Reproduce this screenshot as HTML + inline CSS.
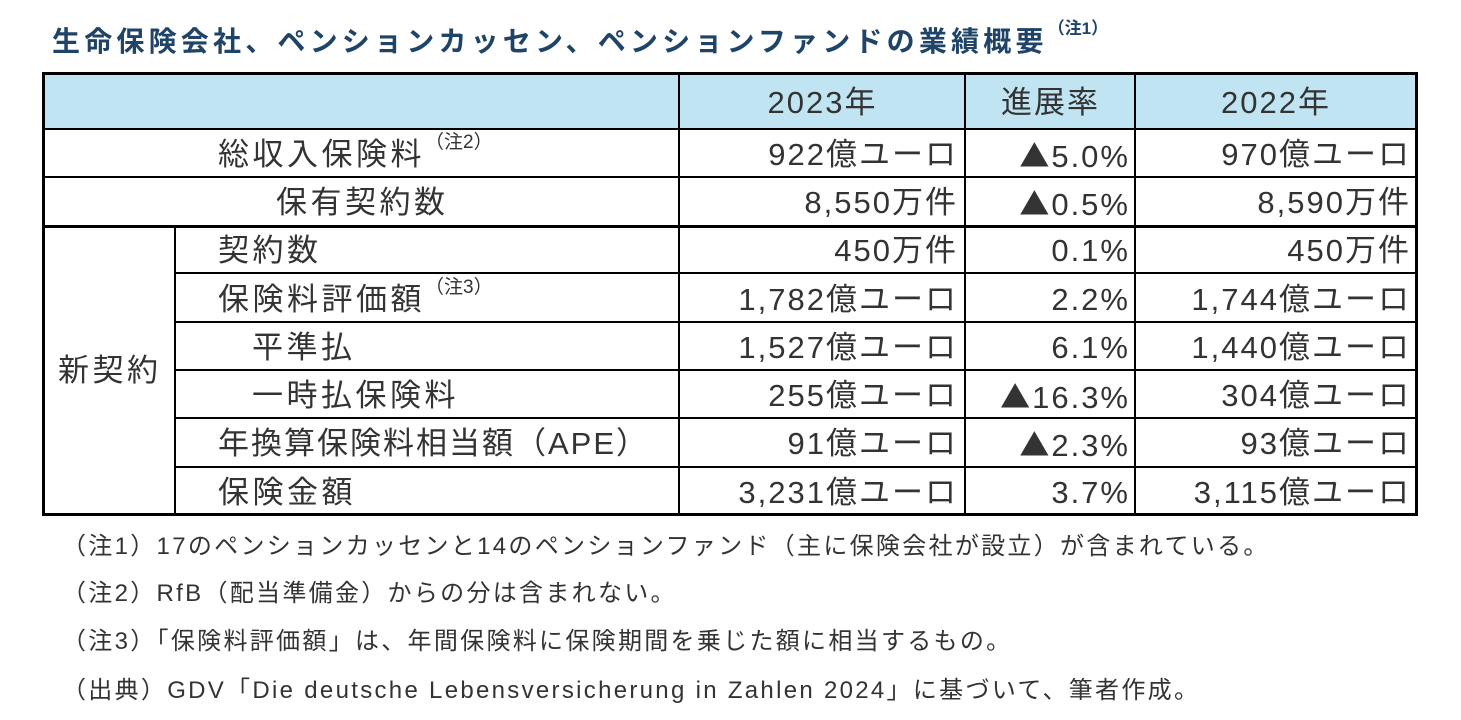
<!DOCTYPE html>
<html><head><meta charset="utf-8">
<style>
body{margin:0;width:1461px;height:720px;background:#fff;position:relative;overflow:hidden;font-family:"Liberation Sans","Noto Sans CJK JP",sans-serif;color:#333;}
.t{position:absolute;left:52px;top:20px;font-size:28px;letter-spacing:4.2px;font-weight:bold;color:#1f4468;white-space:nowrap;}
.t sup{font-size:17px;letter-spacing:0;position:relative;top:-6px;vertical-align:top;}
.line{position:absolute;background:#000;}
.c{position:absolute;font-size:31px;letter-spacing:2px;white-space:nowrap;line-height:1;}
.n{position:absolute;left:62px;font-size:24px;letter-spacing:2.3px;white-space:nowrap;color:#333;}
sup.s{font-size:19px;letter-spacing:0;vertical-align:top;position:relative;top:-6px;}
.lab{letter-spacing:3.5px;}
.tri{font-family:"Noto Sans CJK JP",sans-serif;font-size:30px;}
</style></head><body>
<div class="t">生命保険会社、ペンションカッセン、ペンションファンドの業績概要<sup>（注1）</sup></div>
<div style="position:absolute;left:44px;top:73px;width:1373px;height:56px;background:#c1e4f3"></div>
<div class="line" style="left:42px;top:72px;width:1376px;height:3px"></div>
<div class="line" style="left:42px;top:513px;width:1376px;height:3px"></div>
<div class="line" style="left:42px;top:72px;width:3px;height:444px"></div>
<div class="line" style="left:1415px;top:72px;width:3px;height:444px"></div>
<div class="line" style="left:42px;top:128px;width:1376px;height:2px"></div>
<div class="line" style="left:42px;top:176px;width:1376px;height:2px"></div>
<div class="line" style="left:42px;top:225px;width:1376px;height:3px"></div>
<div class="line" style="left:175px;top:272px;width:1243px;height:2px"></div>
<div class="line" style="left:175px;top:321px;width:1243px;height:2px"></div>
<div class="line" style="left:175px;top:369px;width:1243px;height:2px"></div>
<div class="line" style="left:175px;top:417px;width:1243px;height:2px"></div>
<div class="line" style="left:175px;top:466px;width:1243px;height:2px"></div>
<div class="line" style="left:174px;top:226px;width:2px;height:289px"></div>
<div class="line" style="left:678px;top:72px;width:2px;height:444px"></div>
<div class="line" style="left:964px;top:72px;width:2px;height:444px"></div>
<div class="line" style="left:1134px;top:72px;width:2px;height:444px"></div>
<div class="c" style="left:680px;width:285px;top:87px;text-align:center">2023年</div>
<div class="c" style="left:966px;width:169px;top:87px;text-align:center">進展率</div>
<div class="c" style="left:1136px;width:280px;top:87px;text-align:center">2022年</div>
<div class="c lab" style="left:218px;top:139px">総収入保険料<sup class="s">（注2）</sup></div>
<div class="c lab" style="left:276px;top:187px">保有契約数</div>
<div class="c lab" style="left:58px;top:355px">新契約</div>
<div class="c lab" style="left:218px;top:235px">契約数</div>
<div class="c lab" style="left:218px;top:284px">保険料評価額<sup class="s">（注3）</sup></div>
<div class="c lab" style="left:252px;top:332px">平準払</div>
<div class="c lab" style="left:252px;top:380px">一時払保険料</div>
<div class="c" style="left:218px;top:428px">年換算保険料相当額（APE）</div>
<div class="c lab" style="left:218px;top:477px">保険金額</div>
<div id="vals"></div>
<div class="n" style="top:526px">（注1）17のペンションカッセンと14のペンションファンド（主に保険会社が設立）が含まれている。</div>
<div class="n" style="top:573px">（注2）RfB（配当準備金）からの分は含まれない。</div>
<div class="n" style="top:621px">（注3）「保険料評価額」は、年間保険料に保険期間を乗じた額に相当するもの。</div>
<div class="n" style="top:670px">（出典）GDV「Die deutsche Lebensversicherung in Zahlen 2024」に基づいて、筆者作成。</div>
<script>
const v2023=["922億ユーロ","8,550万件","450万件","1,782億ユーロ","1,527億ユーロ","255億ユーロ","91億ユーロ","3,231億ユーロ"];
const growth=["▲5.0%","▲0.5%","0.1%","2.2%","6.1%","▲16.3%","▲2.3%","3.7%"];
const v2022=["970億ユーロ","8,590万件","450万件","1,744億ユーロ","1,440億ユーロ","304億ユーロ","93億ユーロ","3,115億ユーロ"];
const tops=[139,187,235,284,332,380,428,477];
const host=document.getElementById('vals');
function cell(txt,right,top,name){
  const d=document.createElement('div');
  d.className='c';
  d.style.right=right+'px';d.style.top=top+'px';
  if(txt.charAt(0)==='▲'){
    const s=document.createElement('span');
    s.className='tri';
    s.textContent='▲';
    d.appendChild(s);
    d.appendChild(document.createTextNode(txt.slice(1)));
  } else d.textContent=txt;
  
  
  host.appendChild(d);
}
for(let i=0;i<v2023.length;i++){
  cell(v2023[i],1461-958,tops[i],'value-2023');
  cell(growth[i],1461-1130,tops[i],'value-growth');
  cell(v2022[i],1461-1411,tops[i],'value-2022');
}
</script>
</body></html>
